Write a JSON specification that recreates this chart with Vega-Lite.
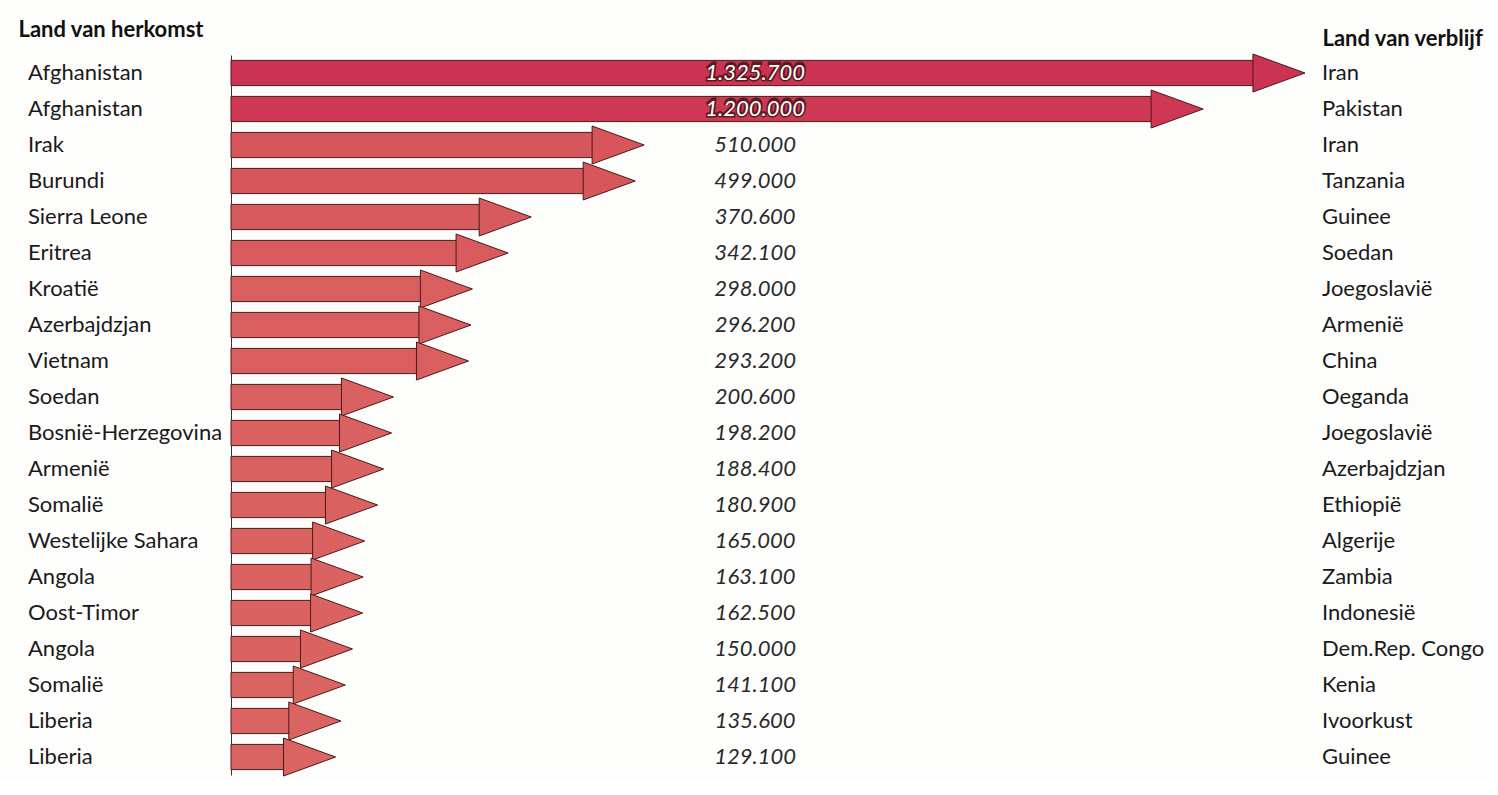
{
  "$schema": "https://vega.github.io/schema/vega-lite/v6.json",
  "width": 1074,
  "height": 720,
  "padding": {"left": 18, "top": 18, "right": 2, "bottom": 2},
  "background": "#fdfdfc",
  "data": {
    "values": [
      {"rank": 1, "origin": "Afghanistan", "dest": "Iran", "value": 1325700},
      {"rank": 2, "origin": "Afghanistan", "dest": "Pakistan", "value": 1200000},
      {"rank": 3, "origin": "Irak", "dest": "Iran", "value": 510000},
      {"rank": 4, "origin": "Burundi", "dest": "Tanzania", "value": 499000},
      {"rank": 5, "origin": "Sierra Leone", "dest": "Guinee", "value": 370600},
      {"rank": 6, "origin": "Eritrea", "dest": "Soedan", "value": 342100},
      {"rank": 7, "origin": "Kroatië", "dest": "Joegoslavië", "value": 298000},
      {"rank": 8, "origin": "Azerbajdzjan", "dest": "Armenië", "value": 296200},
      {"rank": 9, "origin": "Vietnam", "dest": "China", "value": 293200},
      {"rank": 10, "origin": "Soedan", "dest": "Oeganda", "value": 200600},
      {"rank": 11, "origin": "Bosnië-Herzegovina", "dest": "Joegoslavië", "value": 198200},
      {"rank": 12, "origin": "Armenië", "dest": "Azerbajdzjan", "value": 188400},
      {"rank": 13, "origin": "Somalië", "dest": "Ethiopië", "value": 180900},
      {"rank": 14, "origin": "Westelijke Sahara", "dest": "Algerije", "value": 165000},
      {"rank": 15, "origin": "Angola", "dest": "Zambia", "value": 163100},
      {"rank": 16, "origin": "Oost-Timor", "dest": "Indonesië", "value": 162500},
      {"rank": 17, "origin": "Angola", "dest": "Dem.Rep. Congo", "value": 150000},
      {"rank": 18, "origin": "Somalië", "dest": "Kenia", "value": 141100},
      {"rank": 19, "origin": "Liberia", "dest": "Ivoorkust", "value": 135600},
      {"rank": 20, "origin": "Liberia", "dest": "Guinee", "value": 129100}
    ]
  },
  "encoding": {
    "y": {
      "field": "rank",
      "type": "ordinal",
      "scale": {"paddingInner": 0.3, "paddingOuter": 0.15},
      "axis": {
        "labels": false,
        "ticks": false,
        "tickSize": 0,
        "domain": true,
        "domainColor": "#333333",
        "domainWidth": 1,
        "title": "Land van herkomst",
        "titleAngle": 0,
        "titleX": -213,
        "titleY": -19,
        "titleAlign": "left",
        "titleBaseline": "alphabetic",
        "titleFont": "Lato",
        "titleFontSize": 22,
        "titleFontWeight": "bold",
        "titleColor": "#111111"
      }
    }
  },
  "layer": [
    {
      "mark": {"type": "bar", "xOffset": -50, "stroke": "#4a1a1a", "strokeWidth": 1},
      "encoding": {
        "x": {
          "field": "value",
          "type": "quantitative",
          "scale": {"domain": [0, 1325700], "nice": false},
          "axis": {
            "orient": "top",
            "labels": false,
            "ticks": false,
            "domain": false,
            "grid": false,
            "title": "Land van verblijf",
            "titleX": 1091,
            "titleY": -10,
            "titleAlign": "left",
            "titleBaseline": "alphabetic",
            "titleFont": "Lato",
            "titleFontSize": 22,
            "titleFontWeight": "bold",
            "titleColor": "#111111"
          }
        },
        "x2": {"datum": 0},
        "color": {
          "field": "value",
          "type": "quantitative",
          "scale": {"domain": [129100, 1325700], "range": ["#da6462", "#cc3252"]},
          "legend": null
        }
      }
    },
    {
      "mark": {
        "type": "point",
        "shape": "M-2.74,-1L0,0L-2.74,1Z",
        "size": 1444,
        "filled": true,
        "opacity": 1,
        "stroke": "#4a1a1a",
        "strokeWidth": 1
      },
      "encoding": {
        "x": {"field": "value", "type": "quantitative"},
        "color": {
          "field": "value",
          "type": "quantitative",
          "scale": {"domain": [129100, 1325700], "range": ["#da6462", "#cc3252"]},
          "legend": null
        }
      }
    },
    {
      "mark": {"type": "text", "align": "left", "baseline": "middle", "dx": -203, "font": "Lato", "fontSize": 22, "color": "#1a1a1a"},
      "encoding": {
        "x": {"datum": 0},
        "text": {"field": "origin"}
      }
    },
    {
      "mark": {"type": "text", "align": "left", "baseline": "middle", "dx": 17, "font": "Lato", "fontSize": 22, "color": "#1a1a1a"},
      "encoding": {
        "x": {"datum": 1325700},
        "text": {"field": "dest"}
      }
    },
    {
      "transform": [{"filter": "datum.value > 1000000"}],
      "mark": {"type": "text", "align": "center", "baseline": "middle", "font": "Lato", "fontSize": 22, "fontStyle": "italic", "fontWeight": "bold", "color": "#5a1a22", "stroke": "#5a1a22", "strokeWidth": 3},
      "encoding": {
        "x": {"datum": 647000},
        "text": {"field": "value", "type": "quantitative", "format": ",d"}
      }
    },
    {
      "mark": {"type": "text", "align": "center", "baseline": "middle", "font": "Lato", "fontSize": 22, "fontStyle": "italic"},
      "encoding": {
        "x": {"datum": 647000},
        "text": {"field": "value", "type": "quantitative", "format": ",d"},
        "color": {
          "condition": {"test": "datum.value > 1000000", "value": "#ffffff"},
          "value": "#2a2a2a"
        }
      }
    }
  ],
  "config": {
    "view": {"stroke": null},
    "font": "Lato",
    "locale": {
      "number": {"decimal": ",", "thousands": ".", "grouping": [3], "currency": ["€", ""]}
    }
  }
}
